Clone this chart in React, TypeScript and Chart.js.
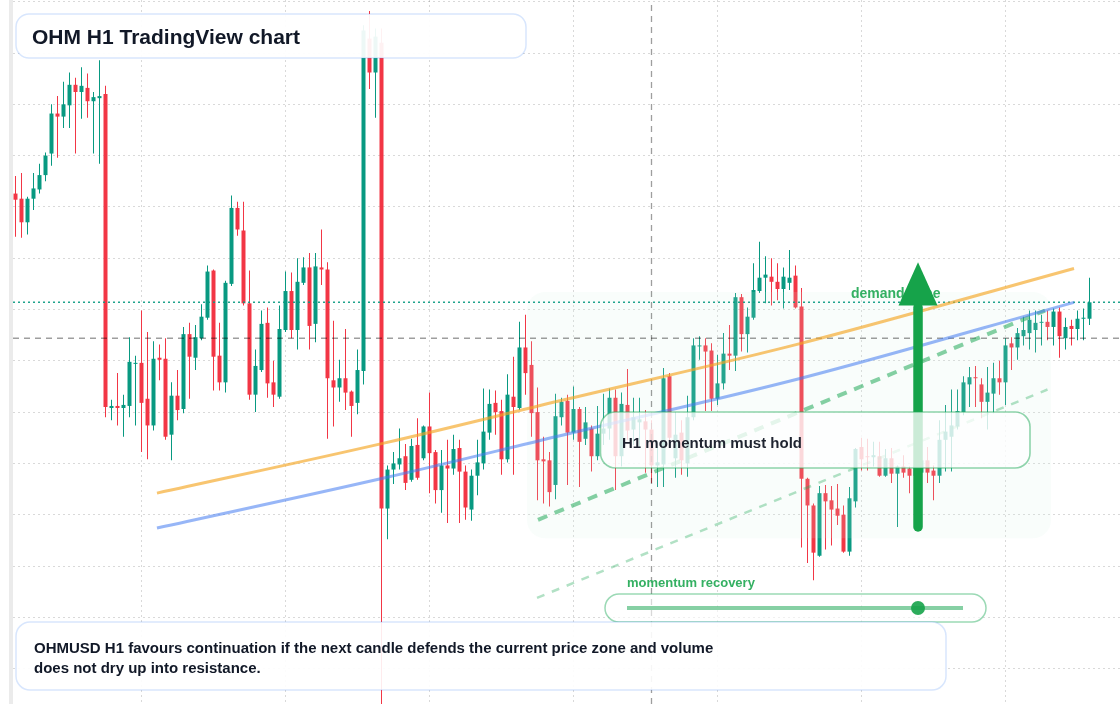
import React, { useEffect, useRef } from 'react';
import { Chart, registerables } from 'chart.js';

Chart.register(...registerables);

// ---- OHLC data (H1 candles, OHMUSD) ----
const opens = [
  22.13, 22.08, 21.85, 22.08, 22.17, 22.31, 22.52, 22.91, 22.88, 22.99,
  23.19, 23.12, 23.16, 23.03, 23.06, 23.10, 20.04, 20.06, 20.04, 20.06,
  20.47, 20.48, 20.13, 19.87, 20.53, 20.52, 19.78, 20.16, 20.03, 20.76,
  20.53, 20.72, 20.92, 21.38, 20.55, 20.29, 21.25, 21.99, 21.77, 21.06,
  20.17, 20.41, 20.87, 20.29, 20.15, 20.80, 21.18, 20.80, 21.26, 21.41,
  20.86, 21.41, 21.39, 20.31, 20.24, 20.33, 20.20, 20.09, 20.40, 23.64,
  23.31, 23.60, 19.06, 19.44, 19.49, 19.57, 19.34, 19.68, 19.55, 19.86,
  19.61, 19.24, 19.48, 19.45, 19.65, 19.42, 19.05, 19.38, 19.50, 19.80,
  20.09, 20.01, 19.54, 20.15, 20.04, 20.63, 20.46, 20.00, 19.54, 19.53,
  19.29, 19.95, 20.11, 19.80, 20.03, 19.74, 19.84, 19.57, 19.79, 19.84,
  20.14, 19.57, 20.07, 19.83, 19.90, 19.91, 19.83, 19.48, 19.49, 20.35,
  19.55, 19.80, 19.50, 19.95, 20.64, 20.65, 20.60, 20.13, 20.28, 20.57,
  20.55, 21.12, 20.76, 20.92, 21.18, 21.31, 21.32, 21.27, 21.20, 21.26,
  21.33, 21.03, 19.35, 19.09, 18.60, 19.21, 19.14, 19.06, 19.00, 18.64,
  19.13, 19.66, 19.57, 19.56, 19.57, 19.38, 19.55, 19.40, 19.47, 19.45,
  19.38, 19.41, 19.53, 19.43, 19.38, 19.73, 19.76, 19.86, 20.00, 20.27,
  20.34, 20.27, 20.10, 20.18, 20.33, 20.29, 20.67, 20.63, 20.74, 20.77,
  20.80, 20.87, 20.88, 20.83, 20.98, 20.72, 20.84, 20.81, 20.91, 20.91,
];
const highs = [
  22.30, 22.33, 22.10, 22.33, 22.42, 22.53, 23.00, 23.08, 23.22, 23.31,
  23.26, 23.36, 23.30, 23.12, 23.43, 23.18, 20.12, 20.38, 20.17, 20.73,
  20.55, 20.99, 20.78, 20.69, 20.66, 20.72, 20.29, 20.41, 20.83, 20.87,
  20.85, 21.05, 21.43, 21.39, 20.87, 21.28, 22.11, 22.05, 22.05, 21.38,
  20.61, 20.99, 21.02, 20.50, 21.04, 21.37, 21.36, 21.50, 21.51, 21.55,
  21.55, 21.78, 21.46, 20.89, 20.51, 20.81, 20.21, 20.61, 23.77, 23.91,
  23.74, 23.74, 19.48, 19.61, 19.84, 19.69, 19.74, 19.94, 19.87, 20.19,
  19.63, 19.63, 19.73, 19.78, 19.73, 19.48, 19.44, 19.73, 20.23, 20.22,
  20.21, 20.12, 20.37, 20.54, 20.88, 20.95, 20.69, 20.24, 19.76, 19.61,
  20.18, 20.14, 20.17, 20.25, 20.05, 20.05, 19.87, 20.06, 20.18, 20.23,
  20.22, 20.19, 20.42, 20.14, 20.14, 20.02, 19.92, 19.66, 20.43, 20.38,
  20.00, 19.92, 20.16, 20.72, 20.74, 20.72, 20.67, 20.56, 20.77, 20.85,
  21.16, 21.15, 21.02, 21.45, 21.66, 21.52, 21.50, 21.45, 21.41, 21.58,
  21.43, 21.21, 19.36, 19.11, 19.28, 19.29, 19.28, 19.30, 19.09, 19.27,
  19.65, 19.75, 19.74, 19.71, 19.71, 19.64, 19.65, 19.48, 19.58, 19.47,
  19.58, 19.73, 19.66, 19.48, 19.92, 20.07, 20.22, 20.22, 20.35, 20.44,
  20.45, 20.33, 20.44, 20.48, 20.50, 20.72, 20.73, 20.82, 20.93, 20.99,
  20.99, 20.95, 20.99, 21.01, 21.02, 20.92, 20.90, 20.99, 21.01, 21.31,
];
const lows = [
  21.71, 21.70, 21.73, 21.97, 22.13, 22.25, 22.40, 22.48, 22.77, 22.77,
  22.52, 22.86, 22.87, 22.52, 22.42, 19.95, 19.92, 19.87, 19.76, 19.95,
  19.87, 19.61, 19.54, 19.82, 20.31, 19.73, 19.53, 19.92, 19.99, 20.13,
  20.41, 20.70, 20.90, 20.21, 20.21, 20.19, 21.23, 21.72, 21.04, 20.12,
  20.00, 20.39, 20.14, 20.05, 20.13, 20.78, 20.72, 20.61, 21.24, 20.61,
  20.68, 21.24, 19.74, 19.86, 20.10, 20.02, 19.76, 19.98, 20.27, 23.15,
  22.87, 17.00, 18.76, 19.30, 19.44, 19.24, 19.32, 19.34, 19.53, 19.21,
  19.11, 19.02, 18.92, 19.39, 18.92, 18.95, 18.94, 19.19, 19.44, 19.73,
  19.78, 19.39, 19.51, 19.39, 20.02, 20.17, 19.76, 19.14, 19.11, 19.08,
  19.15, 19.87, 19.29, 19.73, 19.27, 19.68, 19.42, 19.53, 19.68, 19.73,
  19.24, 19.47, 19.73, 19.68, 19.65, 19.41, 19.31, 19.27, 19.27, 19.68,
  19.36, 19.39, 19.37, 19.92, 20.51, 20.01, 20.01, 20.07, 20.22, 20.41,
  20.40, 20.59, 20.58, 20.90, 21.16, 21.06, 21.04, 21.09, 21.01, 21.19,
  21.01, 18.68, 18.53, 18.36, 18.59, 18.66, 18.70, 18.90, 18.63, 18.60,
  19.07, 19.43, 19.43, 19.47, 19.37, 19.37, 19.31, 18.88, 19.36, 19.21,
  19.34, 19.36, 19.31, 19.14, 19.31, 19.42, 19.42, 19.83, 19.97, 20.05,
  20.05, 19.94, 19.83, 19.99, 20.17, 20.07, 20.41, 20.51, 20.65, 20.61,
  20.58, 20.65, 20.70, 20.65, 20.53, 20.61, 20.65, 20.70, 20.70, 20.85,
];
const closes = [
  22.07, 21.85, 22.08, 22.18, 22.31, 22.50, 22.91, 22.88, 23.00, 23.19,
  23.12, 23.18, 23.03, 23.07, 23.08, 20.05, 20.06, 20.04, 20.07, 20.49,
  20.48, 20.09, 19.87, 20.52, 20.51, 19.76, 20.16, 20.02, 20.76, 20.54,
  20.73, 20.93, 21.37, 20.54, 20.29, 21.26, 21.99, 21.78, 21.06, 20.17,
  20.45, 20.86, 20.28, 20.17, 20.81, 21.18, 20.80, 21.27, 21.41, 20.84,
  21.42, 21.39, 20.33, 20.24, 20.33, 20.19, 20.06, 20.41, 23.72, 23.31,
  23.66, 19.06, 19.44, 19.50, 19.55, 19.31, 19.67, 19.36, 19.86, 19.60,
  19.24, 19.48, 19.45, 19.64, 19.42, 19.07, 19.38, 19.51, 19.81, 20.08,
  20.00, 19.54, 20.17, 20.05, 20.63, 20.38, 19.99, 19.53, 19.52, 19.22,
  19.96, 20.10, 19.80, 20.03, 19.71, 19.90, 19.57, 19.79, 19.84, 20.14,
  19.57, 20.08, 19.82, 19.95, 19.93, 19.83, 19.48, 19.51, 20.33, 19.75,
  19.78, 19.53, 19.95, 20.65, 20.65, 20.59, 20.13, 20.28, 20.57, 20.55,
  21.12, 20.76, 20.93, 21.19, 21.31, 21.34, 21.27, 21.20, 21.32, 21.31,
  21.02, 19.35, 19.09, 18.63, 19.21, 19.13, 19.05, 18.99, 18.64, 19.16,
  19.64, 19.54, 19.56, 19.58, 19.38, 19.55, 19.40, 19.47, 19.41, 19.38,
  19.48, 19.53, 19.41, 19.38, 19.73, 19.81, 19.87, 20.01, 20.29, 20.34,
  20.33, 20.10, 20.19, 20.33, 20.29, 20.65, 20.63, 20.77, 20.80, 20.90,
  20.87, 20.88, 20.83, 20.98, 20.74, 20.83, 20.81, 20.91, 20.92, 21.07,
];

// ---- overlays (candle index / price units) ----
const trendX = [23.58, 61.58, 90.75, 130.92, 176.42];
const orangeTrend = [19.21, 19.70, 20.11, 20.67, 21.40];
const blueTrend = [18.87, 19.36, 19.77, 20.33, 21.07];
const upperChannelX = [87.08, 171.58];
const upperChannel = [18.95, 20.99];
const lowerChannelX = [86.92, 172.0];
const lowerChannel = [18.19, 20.22];
const crosshairIndex = 106;
const crosshairPrice = 20.72;
const zoneIndex = [85.25, 172.58];
const zonePrice = [18.77, 21.17];
const arrowIndex = 150.42;
const arrowPrice = [18.88, 21.04, 21.46]; // tail, head base, tip
const gridIndices = [21, 45, 69, 93, 117, 141, 165];
const gridPrices = [17.5, 18, 18.5, 19, 19.5, 20, 20.5, 21, 21.5, 22, 22.5, 23, 23.5, 24];
const X_MIN = -0.41667;
const X_MAX = 184.08333;
const Y_MIN = 17.155;
const Y_MAX = 24.0166;

const UP = '#089981';
const DOWN = '#f23645';
const FONT = "'Liberation Sans', Arial, Helvetica, sans-serif";

function rr(ctx: CanvasRenderingContext2D, x: number, y: number, w: number, h: number, r: number) {
  ctx.beginPath();
  ctx.moveTo(x + r, y);
  ctx.arcTo(x + w, y, x + w, y + h, r);
  ctx.arcTo(x + w, y + h, x, y + h, r);
  ctx.arcTo(x, y + h, x, y, r);
  ctx.arcTo(x, y, x + w, y, r);
  ctx.closePath();
}

const overlayPlugin = {
  id: 'overlays',
  afterDatasetDraw(chart: any, args: any) {
    if (args.index !== 0) return;
    const { ctx, scales } = chart;
    const x0 = scales.x.getPixelForValue(zoneIndex[0]);
    const x1 = scales.x.getPixelForValue(zoneIndex[1]);
    const y0 = scales.y.getPixelForValue(zonePrice[1]);
    const y1 = scales.y.getPixelForValue(zonePrice[0]);
    ctx.save();
    rr(ctx, x0, y0, x1 - x0, y1 - y0, 18);
    ctx.fillStyle = 'rgba(212,244,224,0.14)';
    ctx.fill();
    ctx.restore();
  },
  afterDatasetsDraw(chart: any) {
    const { ctx, scales } = chart;
    ctx.save();
    // demand zone label
    ctx.font = `bold 14px ${FONT}`;
    ctx.fillStyle = '#34b062';
    ctx.textBaseline = 'alphabetic';
    ctx.fillText('demand zone', 851, 298);

    // arrow
    const ax = scales.x.getPixelForValue(arrowIndex);
    const tail = scales.y.getPixelForValue(arrowPrice[0]);
    const base = scales.y.getPixelForValue(arrowPrice[1]);
    const tip = scales.y.getPixelForValue(arrowPrice[2]);
    ctx.strokeStyle = '#16a34a';
    ctx.lineWidth = 9.5;
    ctx.lineCap = 'round';
    ctx.beginPath();
    ctx.moveTo(ax, tail);
    ctx.lineTo(ax, base + 2);
    ctx.stroke();
    ctx.fillStyle = '#16a34a';
    ctx.beginPath();
    ctx.moveTo(ax, tip);
    ctx.lineTo(ax + 19.5, base);
    ctx.lineTo(ax - 19.5, base);
    ctx.closePath();
    ctx.fill();

    // H1 momentum box
    rr(ctx, 600.5, 412, 429.5, 56, 15);
    ctx.fillStyle = 'rgba(255,255,255,0.78)';
    ctx.fill();
    ctx.strokeStyle = 'rgba(34,170,90,0.5)';
    ctx.lineWidth = 1.6;
    ctx.stroke();
    ctx.fillStyle = '#1f2430';
    ctx.font = `bold 15px ${FONT}`;
    ctx.fillText('H1 momentum must hold', 622, 447.5);

    // momentum recovery slider
    ctx.font = `bold 13px ${FONT}`;
    ctx.fillStyle = '#34b062';
    ctx.fillText('momentum recovery', 627, 587);
    rr(ctx, 605, 594, 381, 28, 14);
    ctx.fillStyle = 'rgba(255,255,255,0.6)';
    ctx.fill();
    ctx.strokeStyle = 'rgba(34,170,90,0.45)';
    ctx.lineWidth = 1.5;
    ctx.stroke();
    ctx.strokeStyle = 'rgba(34,170,90,0.55)';
    ctx.lineWidth = 4;
    ctx.lineCap = 'butt';
    ctx.beginPath();
    ctx.moveTo(627, 608);
    ctx.lineTo(963, 608);
    ctx.stroke();
    ctx.fillStyle = 'rgba(22,163,74,0.9)';
    ctx.beginPath();
    ctx.arc(918, 608, 7, 0, Math.PI * 2);
    ctx.fill();

    // title box
    rr(ctx, 16, 14, 510, 44, 13);
    ctx.fillStyle = 'rgba(255,255,255,0.93)';
    ctx.fill();
    ctx.strokeStyle = 'rgba(59,130,246,0.2)';
    ctx.lineWidth = 1.5;
    ctx.stroke();
    ctx.fillStyle = '#111827';
    ctx.font = `bold 21px ${FONT}`;
    ctx.fillText('OHM H1 TradingView chart', 32, 43.5);

    // bottom note box
    rr(ctx, 16, 622, 930, 68, 14);
    ctx.fillStyle = 'rgba(255,255,255,0.9)';
    ctx.fill();
    ctx.strokeStyle = 'rgba(59,130,246,0.2)';
    ctx.lineWidth = 1.5;
    ctx.stroke();
    ctx.fillStyle = '#111827';
    ctx.font = `bold 15px ${FONT}`;
    ctx.fillText('OHMUSD H1 favours continuation if the next candle defends the current price zone and volume', 34, 653);
    ctx.fillText('does not dry up into resistance.', 34, 673);

    // left axis strip
    ctx.fillStyle = '#ebebeb';
    ctx.fillRect(9, 0, 4, chart.height);
    ctx.restore();
  },
};

export default function App() {
  const ref = useRef<HTMLCanvasElement | null>(null);
  useEffect(() => {
    if (!ref.current) return;
    const colors = closes.map((c, i) => (c >= opens[i] ? UP : DOWN));
    const lastPrice = closes[closes.length - 1];
    const chart = new Chart(ref.current, {
      type: 'bar',
      data: {
        datasets: [
          {
            type: 'bar',
            label: 'body',
            data: opens.map((o, i) => ({ x: i, y: [o, closes[i]] })),
            backgroundColor: colors,
            barThickness: 4,
            grouped: false,
            minBarLength: 1,
            borderWidth: 0,
            inflateAmount: 0,
            order: 2,
          } as any,
          {
            type: 'bar',
            label: 'wick',
            data: lows.map((l, i) => ({ x: i, y: [l, highs[i]] })),
            backgroundColor: colors,
            barThickness: 1,
            grouped: false,
            borderWidth: 0,
            inflateAmount: 0,
            order: 3,
          } as any,
          {
            type: 'line',
            label: 'orange trend',
            data: trendX.map((x, i) => ({ x, y: orangeTrend[i] })),
            borderColor: 'rgba(245,166,35,0.65)',
            borderWidth: 3,
            pointRadius: 0,
            cubicInterpolationMode: 'monotone',
            order: 1,
          } as any,
          {
            type: 'line',
            label: 'blue trend',
            data: trendX.map((x, i) => ({ x, y: blueTrend[i] })),
            borderColor: 'rgba(66,122,240,0.55)',
            borderWidth: 3,
            pointRadius: 0,
            cubicInterpolationMode: 'monotone',
            order: 1,
          } as any,
          {
            type: 'line',
            label: 'upper channel',
            data: upperChannelX.map((x, i) => ({ x, y: upperChannel[i] })),
            borderColor: 'rgba(34,170,90,0.55)',
            borderWidth: 4,
            borderDash: [10, 8],
            pointRadius: 0,
            order: 1,
          } as any,
          {
            type: 'line',
            label: 'lower channel',
            data: lowerChannelX.map((x, i) => ({ x, y: lowerChannel[i] })),
            borderColor: 'rgba(34,170,90,0.35)',
            borderWidth: 2.5,
            borderDash: [8, 8],
            pointRadius: 0,
            order: 1,
          } as any,
          {
            type: 'line',
            label: 'last price',
            data: [{ x: X_MIN, y: lastPrice }, { x: X_MAX, y: lastPrice }],
            borderColor: 'rgba(8,153,129,0.9)',
            borderWidth: 1.5,
            borderDash: [2, 3],
            pointRadius: 0,
            order: 1,
          } as any,
          {
            type: 'line',
            label: 'crosshair h',
            data: [{ x: X_MIN, y: crosshairPrice }, { x: X_MAX, y: crosshairPrice }],
            borderColor: 'rgba(0,0,0,0.38)',
            borderWidth: 1.3,
            borderDash: [6, 5],
            pointRadius: 0,
            order: 1,
          } as any,
          {
            type: 'line',
            label: 'crosshair v',
            data: [{ x: crosshairIndex, y: Y_MIN }, { x: crosshairIndex, y: Y_MAX }],
            borderColor: 'rgba(0,0,0,0.38)',
            borderWidth: 1.3,
            borderDash: [6, 5],
            pointRadius: 0,
            order: 1,
          } as any,
        ],
      },
      options: {
        animation: false,
        responsive: false,
        events: [],
        layout: { padding: { left: 13, right: 0, top: 0, bottom: 0 }, autoPadding: false },
        plugins: { legend: { display: false }, tooltip: { enabled: false } },
        scales: {
          x: {
            type: 'linear',
            min: X_MIN,
            max: X_MAX,
            offset: false,
            grid: { offset: false, color: 'rgba(0,0,0,0.15)', lineWidth: 1, drawTicks: false },
            border: { display: false, dash: [2, 3] },
            ticks: { display: false },
            afterBuildTicks: (s: any) => {
              s.ticks = gridIndices.map((v) => ({ value: v }));
            },
            afterFit: (s: any) => {
              s.height = 0;
            },
          },
          y: {
            type: 'linear',
            min: Y_MIN,
            max: Y_MAX,
            beginAtZero: false,
            grid: { color: 'rgba(0,0,0,0.15)', lineWidth: 1, drawTicks: false },
            border: { display: false, dash: [2, 3] },
            ticks: { display: false },
            afterBuildTicks: (s: any) => {
              s.ticks = gridPrices.map((v) => ({ value: v }));
            },
            afterFit: (s: any) => {
              s.width = 0;
            },
          },
        },
      } as any,
      plugins: [overlayPlugin],
    });
    return () => chart.destroy();
  }, []);
  return (
    <div style={{ position: 'fixed', left: 0, top: 0, width: 1120, height: 704, background: '#ffffff' }}>
      <canvas ref={ref} width={1120} height={704} style={{ display: 'block' }} />
    </div>
  );
}
